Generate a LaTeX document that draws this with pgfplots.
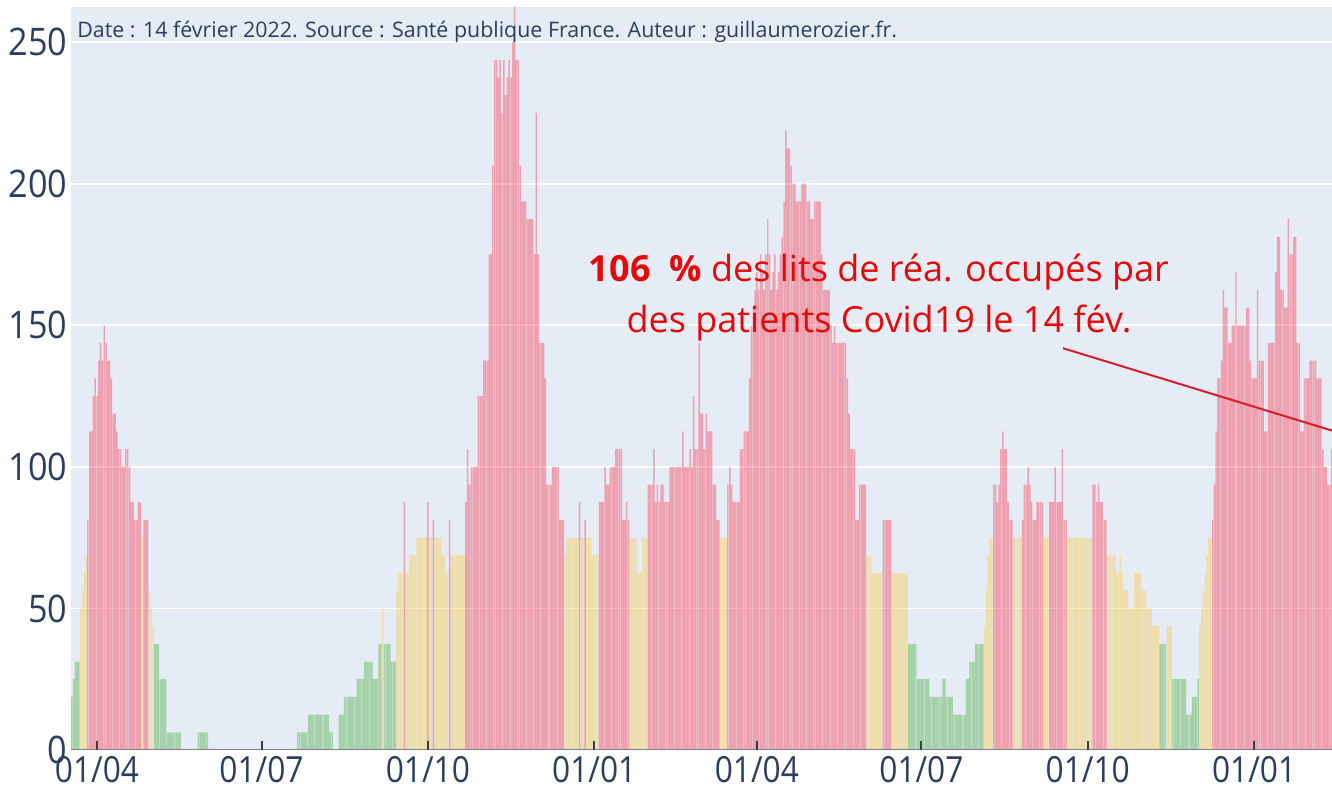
\documentclass[border=0pt]{standalone}
\usepackage{pgfplots}
\pgfplotsset{compat=1.18}
\usepackage{pgfplotstable}
\usepackage{fontspec}
\setmainfont{Open Sans}
\newfontfamily\tickfont[FakeStretch=0.88]{Open Sans}
\newfontfamily\ytickfont[FakeStretch=0.9]{Open Sans}
\definecolor{bg}{RGB}{229,236,246}
\definecolor{txt}{RGB}{42,63,95}
\definecolor{rcol}{RGB}{255,30,55}
\definecolor{gcol}{RGB}{46,162,29}
\definecolor{ycol}{RGB}{255,196,35}
\definecolor{annot}{RGB}{228,10,10}
\definecolor{annotline}{RGB}{214,30,40}
\definecolor{zline}{RGB}{125,128,135}
\definecolor{tickc}{RGB}{60,60,70}

\pgfplotstableread[row sep=\\]{
v\\
18.75\\ 25\\ 31.25\\ 31.25\\ 31.25\\ 50\\ 56.25\\ 62.5\\ 68.75\\ 81.25\\
112.5\\ 112.5\\ 125\\ 131.25\\ 125\\ 137.5\\ 143.75\\ 137.5\\ 150\\ 143.75\\
137.5\\ 137.5\\ 131.25\\ 118.75\\ 118.75\\ 112.5\\ 106.25\\ 106.25\\ 100\\ 100\\
106.25\\ 106.25\\ 100\\ 87.5\\ 87.5\\ 81.25\\ 81.25\\ 87.5\\ 87.5\\ 75\\
81.25\\ 81.25\\ 81.25\\ 56.25\\ 50\\ 43.75\\ 37.5\\ 37.5\\ 37.5\\ 25\\
25\\ 25\\ 25\\ 6.25\\ 6.25\\ 6.25\\ 6.25\\ 6.25\\ 6.25\\ 6.25\\
6.25\\ 0\\ 0\\ 0\\ 0\\ 0\\ 0\\ 0\\ 0\\ 0\\
6.25\\ 6.25\\ 6.25\\ 6.25\\ 6.25\\ 6.25\\ 0\\ 0\\ 0\\ 0\\
0\\ 0\\ 0\\ 0\\ 0\\ 0\\ 0\\ 0\\ 0\\ 0\\
0\\ 0\\ 0\\ 0\\ 0\\ 0\\ 0\\ 0\\ 0\\ 0\\
0\\ 0\\ 0\\ 0\\ 0\\ 0\\ 0\\ 0\\ 0\\ 0\\
0\\ 0\\ 0\\ 0\\ 0\\ 0\\ 0\\ 0\\ 0\\ 0\\
0\\ 0\\ 0\\ 0\\ 0\\ 6.25\\ 6.25\\ 6.25\\ 6.25\\ 6.25\\
6.25\\ 12.5\\ 12.5\\ 12.5\\ 12.5\\ 12.5\\ 12.5\\ 12.5\\ 12.5\\ 12.5\\
12.5\\ 12.5\\ 12.5\\ 6.25\\ 6.25\\ 0\\ 0\\ 0\\ 12.5\\ 12.5\\
12.5\\ 18.75\\ 18.75\\ 18.75\\ 18.75\\ 18.75\\ 18.75\\ 18.75\\ 25\\ 25\\
25\\ 25\\ 31.25\\ 31.25\\ 31.25\\ 31.25\\ 31.25\\ 25\\ 25\\ 25\\
37.5\\ 37.5\\ 50\\ 37.5\\ 37.5\\ 37.5\\ 37.5\\ 31.25\\ 31.25\\ 31.25\\
56.25\\ 62.5\\ 62.5\\ 62.5\\ 87.5\\ 62.5\\ 62.5\\ 68.75\\ 68.75\\ 68.75\\
68.75\\ 75\\ 75\\ 75\\ 75\\ 75\\ 75\\ 87.5\\ 75\\ 75\\
81.25\\ 75\\ 75\\ 75\\ 75\\ 68.75\\ 68.75\\ 62.5\\ 62.5\\ 81.25\\
68.75\\ 68.75\\ 68.75\\ 68.75\\ 68.75\\ 68.75\\ 68.75\\ 68.75\\ 87.5\\ 106.25\\
93.75\\ 100\\ 100\\ 100\\ 100\\ 125\\ 125\\ 125\\ 137.5\\ 137.5\\
137.5\\ 175\\ 175\\ 206.25\\ 243.75\\ 243.75\\ 237.5\\ 243.75\\ 225\\ 243.75\\
231.25\\ 237.5\\ 243.75\\ 237.5\\ 250\\ 262.5\\ 243.75\\ 243.75\\ 206.25\\ 193.75\\
193.75\\ 193.75\\ 187.5\\ 187.5\\ 187.5\\ 187.5\\ 175\\ 225\\ 175\\ 143.75\\
143.75\\ 143.75\\ 131.25\\ 93.75\\ 93.75\\ 93.75\\ 100\\ 100\\ 100\\ 100\\
81.25\\ 81.25\\ 81.25\\ 68.75\\ 75\\ 75\\ 75\\ 75\\ 75\\ 75\\
75\\ 87.5\\ 75\\ 75\\ 81.25\\ 75\\ 75\\ 75\\ 68.75\\ 68.75\\
68.75\\ 68.75\\ 87.5\\ 87.5\\ 87.5\\ 100\\ 93.75\\ 93.75\\ 100\\ 100\\
100\\ 106.25\\ 106.25\\ 106.25\\ 106.25\\ 81.25\\ 81.25\\ 87.5\\ 81.25\\ 75\\
75\\ 75\\ 75\\ 62.5\\ 62.5\\ 62.5\\ 75\\ 75\\ 75\\ 93.75\\
93.75\\ 93.75\\ 106.25\\ 87.5\\ 93.75\\ 87.5\\ 93.75\\ 93.75\\ 87.5\\ 87.5\\
87.5\\ 100\\ 100\\ 100\\ 100\\ 100\\ 100\\ 100\\ 112.5\\ 100\\
100\\ 100\\ 106.25\\ 100\\ 125\\ 106.25\\ 106.25\\ 143.75\\ 118.75\\ 118.75\\
106.25\\ 118.75\\ 112.5\\ 112.5\\ 112.5\\ 93.75\\ 93.75\\ 81.25\\ 81.25\\ 75\\
75\\ 75\\ 75\\ 93.75\\ 100\\ 93.75\\ 87.5\\ 87.5\\ 87.5\\ 87.5\\
106.25\\ 106.25\\ 112.5\\ 112.5\\ 112.5\\ 131.25\\ 150\\ 156.25\\ 162.5\\ 168.75\\
162.5\\ 175\\ 168.75\\ 162.5\\ 175\\ 187.5\\ 175\\ 162.5\\ 168.75\\ 175\\
162.5\\ 168.75\\ 175\\ 181.25\\ 193.75\\ 218.75\\ 212.5\\ 212.5\\ 206.25\\ 200\\
200\\ 193.75\\ 193.75\\ 193.75\\ 200\\ 200\\ 200\\ 193.75\\ 193.75\\ 187.5\\
187.5\\ 193.75\\ 193.75\\ 193.75\\ 193.75\\ 175\\ 162.5\\ 162.5\\ 162.5\\ 162.5\\
150\\ 143.75\\ 150\\ 143.75\\ 143.75\\ 143.75\\ 143.75\\ 143.75\\ 143.75\\ 131.25\\
118.75\\ 106.25\\ 106.25\\ 106.25\\ 81.25\\ 81.25\\ 93.75\\ 93.75\\ 93.75\\ 93.75\\
68.75\\ 68.75\\ 68.75\\ 62.5\\ 62.5\\ 62.5\\ 62.5\\ 62.5\\ 62.5\\ 81.25\\
81.25\\ 81.25\\ 81.25\\ 81.25\\ 62.5\\ 62.5\\ 62.5\\ 62.5\\ 62.5\\ 62.5\\
62.5\\ 62.5\\ 62.5\\ 37.5\\ 37.5\\ 37.5\\ 37.5\\ 37.5\\ 25\\ 25\\
25\\ 25\\ 25\\ 25\\ 25\\ 18.75\\ 18.75\\ 18.75\\ 18.75\\ 18.75\\
18.75\\ 18.75\\ 25\\ 25\\ 18.75\\ 18.75\\ 18.75\\ 18.75\\ 12.5\\ 12.5\\
12.5\\ 12.5\\ 12.5\\ 12.5\\ 12.5\\ 25\\ 25\\ 31.25\\ 31.25\\ 31.25\\
37.5\\ 37.5\\ 37.5\\ 37.5\\ 37.5\\ 43.75\\ 56.25\\ 68.75\\ 75\\ 75\\
93.75\\ 93.75\\ 87.5\\ 93.75\\ 106.25\\ 112.5\\ 106.25\\ 106.25\\ 87.5\\ 81.25\\
81.25\\ 75\\ 75\\ 75\\ 75\\ 75\\ 81.25\\ 93.75\\ 93.75\\ 100\\
93.75\\ 87.5\\ 81.25\\ 81.25\\ 87.5\\ 87.5\\ 87.5\\ 87.5\\ 75\\ 75\\
75\\ 87.5\\ 87.5\\ 87.5\\ 100\\ 87.5\\ 87.5\\ 87.5\\ 106.25\\ 81.25\\
81.25\\ 75\\ 75\\ 75\\ 75\\ 75\\ 75\\ 75\\ 75\\ 75\\
75\\ 75\\ 75\\ 75\\ 75\\ 93.75\\ 93.75\\ 87.5\\ 93.75\\ 87.5\\
87.5\\ 81.25\\ 81.25\\ 68.75\\ 68.75\\ 68.75\\ 68.75\\ 68.75\\ 62.5\\ 62.5\\
68.75\\ 62.5\\ 56.25\\ 56.25\\ 56.25\\ 50\\ 50\\ 50\\ 62.5\\ 62.5\\
62.5\\ 62.5\\ 56.25\\ 56.25\\ 56.25\\ 50\\ 50\\ 50\\ 43.75\\ 43.75\\
43.75\\ 43.75\\ 37.5\\ 37.5\\ 37.5\\ 37.5\\ 43.75\\ 43.75\\ 43.75\\ 25\\
25\\ 25\\ 25\\ 25\\ 25\\ 25\\ 25\\ 12.5\\ 12.5\\ 12.5\\
18.75\\ 18.75\\ 18.75\\ 25\\ 43.75\\ 50\\ 56.25\\ 62.5\\ 68.75\\ 75\\
75\\ 81.25\\ 93.75\\ 112.5\\ 131.25\\ 131.25\\ 137.5\\ 162.5\\ 156.25\\ 156.25\\
143.75\\ 143.75\\ 150\\ 150\\ 168.75\\ 150\\ 150\\ 150\\ 150\\ 150\\
156.25\\ 156.25\\ 137.5\\ 131.25\\ 131.25\\ 131.25\\ 162.5\\ 137.5\\ 137.5\\ 137.5\\
112.5\\ 112.5\\ 143.75\\ 143.75\\ 143.75\\ 143.75\\ 168.75\\ 181.25\\ 181.25\\ 162.5\\
162.5\\ 156.25\\ 156.25\\ 187.5\\ 175\\ 175\\ 181.25\\ 181.25\\ 143.75\\ 143.75\\
112.5\\ 112.5\\ 131.25\\ 131.25\\ 131.25\\ 137.5\\ 137.5\\ 137.5\\ 137.5\\ 131.25\\
131.25\\ 131.25\\ 106.25\\ 100\\ 100\\ 93.75\\ 93.75\\ 106.25\\ 106.25\\
}\occ

\begin{document}
\begin{tikzpicture}
\begin{axis}[
  name=ax,
  scale only axis,
  width=630.6pt, height=371.5pt,
  xmin=-0.5, xmax=697.1, ymin=0, ymax=262.4,
  axis background/.style={fill=bg},
  axis line style={draw=none},
  ymajorgrids, grid style={white, line width=0.9pt},
  ytick={50,100,150,200,250},
  extra y ticks={0}, extra y tick style={grid=none},
  xtick={14,105,197,289,379,470,562,654},
  xticklabels={01/04,01/07,01/10,01/01,01/04,01/07,01/10,01/01},
  /pgf/number format/assume math mode=true,
  xticklabel style={font=\tickfont\fontsize{18}{18}\selectfont, text=txt, anchor=north, inner sep=0pt, yshift=-3pt},
  yticklabel style={font=\ytickfont\fontsize{19}{19}\selectfont, text=txt, anchor=east, inner sep=0pt, xshift=-1.5pt},
  major tick length=0pt,
  tick style={draw=none},
  clip=true,
]
\addplot[ybar, bar width=0.82, bar shift=0pt, draw=none, fill=gcol, fill opacity=0.35,
  restrict y to domain=0.1:40] table[x expr=\coordindex, y index=0] {\occ};
\addplot[ybar, bar width=0.82, bar shift=0pt, draw=none, fill=ycol, fill opacity=0.35,
  restrict y to domain=40:80] table[x expr=\coordindex, y index=0] {\occ};
\addplot[ybar, bar width=0.82, bar shift=0pt, draw=none, fill=rcol, fill opacity=0.36,
  restrict y to domain=80:300] table[x expr=\coordindex, y index=0] {\occ};
\draw[zline, line width=1.2pt] (axis cs:-0.5,0) -- (axis cs:697.1,0);
\pgfplotsinvokeforeach{14,105,197,289,379,470,562,654}{
  \draw[tickc, line width=1pt] (axis cs:#1,0) -- ++(0pt,4.5pt);
}
\node[anchor=base west, inner sep=0pt, text=txt, font=\fontsize{10.7}{10.7}\selectfont]
  at (axis cs:2.9,251.8) {Date : 14 février 2022. Source : Santé publique France. Auteur : guillaumerozier.fr.};
\node[anchor=base, inner sep=0pt, text=annot, font=\fontsize{18}{18}\selectfont]
  at (axis cs:446.5,165.3) {{\bfseries 106~~\%} des lits de réa. occupés par};
\node[anchor=base, inner sep=0pt, text=annot, font=\fontsize{18}{18}\selectfont]
  at (axis cs:446.5,147.6) {des patients Covid19 le 14 fév.};
\draw[annotline, line width=1pt] (axis cs:548.3,141.9) -- (axis cs:697.1,112.8);
\end{axis}
\pgfresetboundingbox
\useasboundingbox ([xshift=-35.4pt,yshift=-21pt]ax.south west) rectangle ([yshift=3.5pt]ax.north east);
\end{tikzpicture}
\end{document}
